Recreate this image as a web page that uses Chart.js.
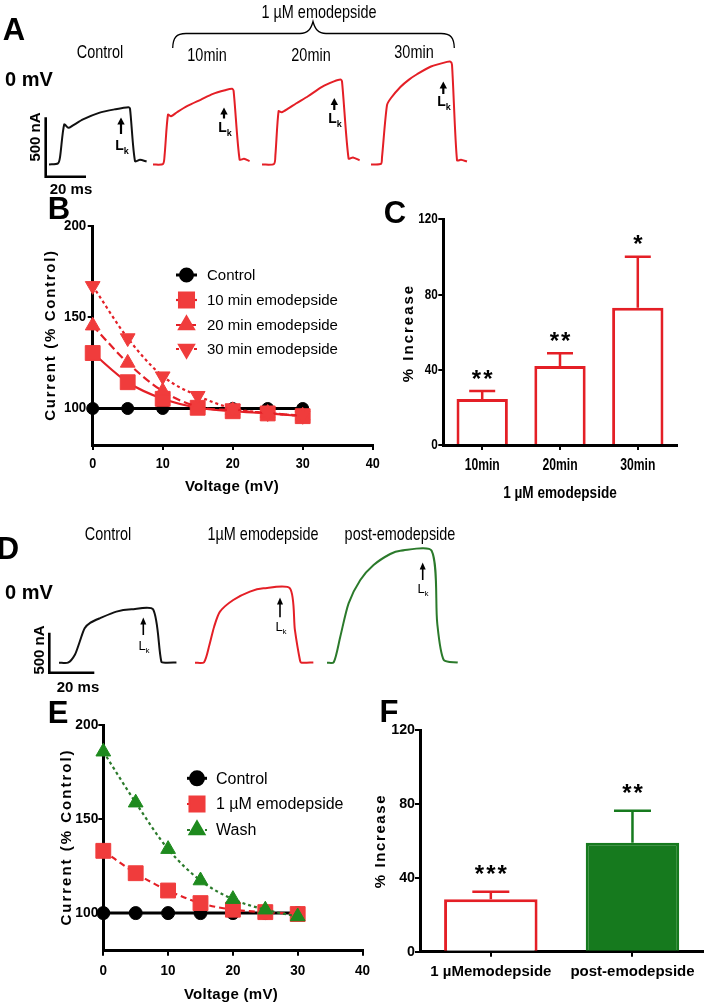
<!DOCTYPE html>
<html>
<head>
<meta charset="utf-8">
<script src="https://cdn.jsdelivr.net/npm/chart.js@4.4.0/dist/chart.umd.min.js"></script>
<style>
html, body { margin: 0; padding: 0; background: #fff; }
body { position: relative; width: 709px; height: 1007px; overflow: hidden; font-family: "Liberation Sans", Arial, sans-serif; color: #000; }
canvas { position: absolute; }
.t { position: absolute; transform: translate(-50%, -50%); white-space: nowrap; line-height: 1; }
.letter { font-weight: bold; font-size: 31px; }
.mv { font-weight: bold; font-size: 20px; }
.cap { font-size: 19px; transform: translate(-50%, -50%) scaleX(0.76); }
.scale { font-weight: bold; font-size: 15px; }
.ytitle { font-weight: bold; font-size: 15px; transform: translate(-50%, -50%) rotate(-90deg); }
.xtitle { font-weight: bold; font-size: 15px; letter-spacing: 0.3px; }
.lk { font-weight: bold; font-size: 14px; }
.lk sub { font-size: 9px; }
.lkd { font-size: 13px; }
.lkd sub { font-size: 8px; }
svg { position: absolute; left: 0; top: 0; }
</style>
</head>
<body>

<!-- panel A -->
<canvas id="trA0" width="100" height="120" style="left:49px;top:55px"></canvas>
<canvas id="trA1" width="100" height="120" style="left:152.7px;top:55px"></canvas>
<canvas id="trA2" width="100" height="120" style="left:261.7px;top:55px"></canvas>
<canvas id="trA3" width="100" height="120" style="left:370.7px;top:55px"></canvas>

<!-- panel D -->
<canvas id="trD0" width="135" height="135" style="left:59.3px;top:540px"></canvas>
<canvas id="trD1" width="135" height="135" style="left:195px;top:540px"></canvas>
<canvas id="trD2" width="135" height="135" style="left:326.7px;top:540px"></canvas>

<!-- panels B, C, E, F -->
<canvas id="chartB" width="390" height="300" style="left:0;top:200px"></canvas>
<canvas id="chartC" width="349" height="300" style="left:360px;top:200px"></canvas>
<canvas id="chartE" width="390" height="307" style="left:0;top:700px"></canvas>
<canvas id="chartF" width="349" height="307" style="left:360px;top:700px"></canvas>

<svg width="709" height="1007">
  <!-- brace over emodepside traces -->
  <path d="M172.7 48 C173 38 176 33.5 186 33.5 L300 33.5 C308 33.5 311 29 313 21.5 C315 29 318 33.5 326 33.5 L441 33.5 C451 33.5 454 38 454.3 48" fill="none" stroke="#000" stroke-width="1.3"/>
  <!-- scale bars -->
  <path d="M45.7 117.3 V176.7 H86" fill="none" stroke="#000" stroke-width="2.6"/>
  <path d="M49.3 632.7 V672.7 H94.3" fill="none" stroke="#000" stroke-width="2.6"/>
  <!-- arrows A -->
  <g stroke="#000" stroke-width="2.2" fill="#000">
    <line x1="121" y1="134" x2="121" y2="123"/><polygon points="121,117.5 117.3,124.5 124.7,124.5" stroke="none"/>
    <line x1="224" y1="118.5" x2="224" y2="113"/><polygon points="224,107.5 220.3,114.5 227.7,114.5" stroke="none"/>
    <line x1="334.3" y1="110" x2="334.3" y2="104"/><polygon points="334.3,98 330.6,105 338,105" stroke="none"/>
    <line x1="443.3" y1="94" x2="443.3" y2="87"/><polygon points="443.3,81.5 439.6,88.5 447,88.5" stroke="none"/>
  </g>
  <!-- arrows D -->
  <g stroke="#000" stroke-width="1.6" fill="#000">
    <line x1="143.3" y1="635" x2="143.3" y2="623"/><polygon points="143.3,617.5 140.3,624.5 146.3,624.5" stroke="none"/>
    <line x1="280" y1="617.3" x2="280" y2="603"/><polygon points="280,597.5 277,604.5 283,604.5" stroke="none"/>
    <line x1="422.7" y1="580" x2="422.7" y2="568"/><polygon points="422.7,562.5 419.7,569.5 425.7,569.5" stroke="none"/>
  </g>
</svg>

<div class="t letter" style="left:14px;top:29px">A</div>
<div class="t mv" style="left:29px;top:79px">0 mV</div>
<div class="t cap" style="left:319px;top:11px">1 µM emodepside</div>
<div class="t cap" style="left:100px;top:51px">Control</div>
<div class="t cap" style="left:207px;top:54px">10min</div>
<div class="t cap" style="left:311px;top:54px">20min</div>
<div class="t cap" style="left:414px;top:51px">30min</div>
<div class="t scale" style="left:33.5px;top:137px;transform:translate(-50%,-50%) rotate(-90deg)">500 nA</div>
<div class="t scale" style="left:71px;top:188px">20 ms</div>
<div class="t lk" style="left:122px;top:147px">L<sub>k</sub></div>
<div class="t lk" style="left:225px;top:129px">L<sub>k</sub></div>
<div class="t lk" style="left:335px;top:120px">L<sub>k</sub></div>
<div class="t lk" style="left:444px;top:103px">L<sub>k</sub></div>

<div class="t letter" style="left:59px;top:208px">B</div>
<div class="t ytitle" style="left:49px;top:335px;letter-spacing:1.7px">Current (% Control)</div>
<div class="t xtitle" style="left:232px;top:485px">Voltage (mV)</div>

<div class="t letter" style="left:395px;top:212px">C</div>
<div class="t ytitle" style="left:407px;top:333px;letter-spacing:2px">% Increase</div>
<div class="t xtitle" style="left:560px;top:492px;font-size:17px;transform:translate(-50%,-50%) scaleX(0.8);letter-spacing:0">1 µM emodepside</div>

<div class="t letter" style="left:8px;top:548px">D</div>
<div class="t mv" style="left:29px;top:592px">0 mV</div>
<div class="t cap" style="left:108px;top:533px">Control</div>
<div class="t cap" style="left:263px;top:533px">1µM emodepside</div>
<div class="t cap" style="left:400px;top:533px">post-emodepside</div>
<div class="t scale" style="left:38px;top:650px;transform:translate(-50%,-50%) rotate(-90deg)">500 nA</div>
<div class="t scale" style="left:78px;top:686px">20 ms</div>
<div class="t lkd" style="left:144px;top:647px">L<sub>k</sub></div>
<div class="t lkd" style="left:281px;top:628px">L<sub>k</sub></div>
<div class="t lkd" style="left:423px;top:590px">L<sub>k</sub></div>

<div class="t letter" style="left:58px;top:712px">E</div>
<div class="t ytitle" style="left:65px;top:837px;letter-spacing:2px">Current (% Control)</div>
<div class="t xtitle" style="left:231px;top:993px">Voltage (mV)</div>

<div class="t letter" style="left:389px;top:711px">F</div>
<div class="t ytitle" style="left:379px;top:841px;letter-spacing:1.6px">% Increase</div>

<script>
// ---- current traces (time in ms, current in nA above baseline) ----
const ctrlA_t = [0, 4.5, 5.5, 7.6, 9.7, 12, 17, 25, 33, 39.7, 40.5, 43, 45.5, 48.8];
const ctrlA_nA = [0, 10, 60, 337, 309, 330, 380, 435, 465, 483, 470, 29, 40, 25];
const min10A_t = [0, 5, 5.8, 7.5, 9, 12, 17, 24, 30, 36, 39.5, 40.3, 43.3, 45.5, 48.3];
const min10A_nA = [0, 5, 80, 421, 407, 440, 491, 547, 595, 625, 637, 620, 42, 48, 30];
const min20A_t = [0, 6, 6.7, 8.3, 9.8, 13, 17, 23, 30, 36, 39.2, 40, 43.3, 45.5, 48.8];
const min20A_nA = [0, 5, 80, 449, 440, 470, 514, 575, 654, 700, 716, 700, 50, 60, 35];
const min30A_t = [0, 5, 5.5, 8, 10, 14.7, 19, 23, 30, 38, 39.7, 40.5, 43, 45, 48];
const min30A_nA = [0, 5, 60, 500, 560, 653, 715, 760, 825, 864, 866, 840, 36, 40, 25];

const ctrlD_t = [0, 4, 7, 9.2, 11.4, 14, 18.1, 25.5, 32.2, 41.8, 45.5, 47.5, 52.2];
const ctrlD_nA = [0, 0, 96, 262, 430, 500, 555, 638, 667, 667, 12, 0, 3];
const emodD_t = [0, 4, 6.4, 8.5, 11.1, 17, 24.4, 30.4, 42.2, 44.4, 46.7, 47.4, 52.6];
const emodD_nA = [0, 5, 221, 450, 638, 784, 888, 930, 930, 409, 25, 0, 3];
const postD_t = [0, 3, 5.9, 9.6, 14.8, 20.7, 28.1, 32.6, 46.5, 49, 51.9, 58.1];
const postD_nA = [0, 5, 325, 742, 1034, 1221, 1359, 1400, 1400, 492, 33, 3];

// ---- I-V curves (panels B and E) ----
const voltages = [0, 5, 10, 15, 20, 25, 30];
const bSeries = ['Control', '10 min emodepside', '20 min emodepside', '30 min emodepside'];
const bControl = [100, 100, 100, 100, 100, 100, 100];
const b10min = [130.4, 114.4, 105.3, 100.4, 98.5, 97.3, 95.8];
const b20min = [145.4, 125, 109.5, 101, 99, 97.5, 96];
const b30min = [167.2, 138.6, 117.7, 107, 100, 97.5, 96];

const eSeries = ['Control', '1 µM emodepside', 'Wash'];
const eControl = [100, 100, 100, 100, 100, 100, 100];
const eEmod = [133.1, 121.2, 112, 105.3, 101.8, 100.5, 99.5];
const eWash = [185.8, 158.7, 134, 117.3, 107.4, 101.8, 98.2];

const ivYTicks = [100, 150, 200];
const ivXTicks = [0, 10, 20, 30, 40];

// ---- % increase bars (panels C and F) ----
const cCats = ['10min', '20min', '30min'];
const cMeans = [24.5, 42, 73];
const cErrs = [4.2, 6.8, 27.1];
const cStars = ['**', '**', '*'];

const fCats = ['1 µMemodepside', 'post-emodepside'];
const fMeans = [28.4, 59];
const fErrs = [4.1, 17.3];
const fStars = ['***', '**'];

const barYTicks = [0, 40, 80, 120];

const RED = '#e41f26';
const RED_PT = '#f03c3c';
const GREEN = '#2b7a2b';
const GREEN_BAR = '#167a1e';
const SANS = '"Liberation Sans", Arial, sans-serif';

Chart.defaults.animation = false;
Chart.defaults.responsive = false;
Chart.defaults.devicePixelRatio = 1;
Chart.defaults.events = [];
Chart.defaults.plugins.legend.display = false;
Chart.defaults.plugins.tooltip.enabled = false;
Chart.defaults.color = '#000';

// legend drawn inside the plot area like the original
const insideLegend = {
    id: 'insideLegend',
    afterDatasetsDraw(chart, args, opts) {
        if (!opts.rows) return;
        const ctx = chart.ctx;
        chart.data.datasets.forEach((ds, k) => {
            const y = opts.rows[k];
            ctx.save();
            ctx.strokeStyle = ds.borderColor;
            ctx.lineWidth = ds.borderWidth;
            ctx.setLineDash(ds.borderDash || []);
            ctx.beginPath();
            ctx.moveTo(opts.x0, y);
            ctx.lineTo(opts.x1, y);
            ctx.stroke();
            ctx.setLineDash([]);
            ctx.fillStyle = ds.pointBackgroundColor;
            ctx.strokeStyle = ds.pointBorderColor;
            Chart.helpers.drawPoint(ctx, {
                pointStyle: ds.pointStyle,
                rotation: ds.pointRotation || 0,
                radius: ds.pointRadius,
                borderWidth: 1
            }, (opts.x0 + opts.x1) / 2, y);
            ctx.fillStyle = '#000';
            ctx.font = opts.font;
            ctx.textBaseline = 'middle';
            ctx.textAlign = 'left';
            ctx.fillText(ds.label, opts.tx, y + 1);
            ctx.restore();
        });
    }
};

// upper error bars with significance stars
const errorBars = {
    id: 'errorBars',
    afterDatasetsDraw(chart, args, opts) {
        if (!opts.errs) return;
        const ctx = chart.ctx;
        const ys = chart.scales.y;
        const vals = chart.data.datasets[0].data;
        chart.getDatasetMeta(0).data.forEach((bar, k) => {
            const yTop = ys.getPixelForValue(vals[k] + opts.errs[k]);
            ctx.save();
            ctx.strokeStyle = opts.colors[k];
            ctx.lineWidth = opts.width;
            ctx.beginPath();
            ctx.moveTo(bar.x, bar.y);
            ctx.lineTo(bar.x, yTop);
            ctx.moveTo(bar.x - opts.cap / 2, yTop);
            ctx.lineTo(bar.x + opts.cap / 2, yTop);
            ctx.stroke();
            ctx.fillStyle = '#000';
            ctx.font = opts.font;
            ctx.letterSpacing = '2px';
            ctx.textAlign = 'center';
            ctx.textBaseline = 'alphabetic';
            ctx.fillText(opts.stars[k], bar.x + 1, yTop + opts.starDy);
            ctx.restore();
        });
    }
};

// tick labels drawn by hand so they can be squeezed like the original's condensed type
const squeezedTicks = {
    id: 'squeezedTicks',
    afterDraw(chart, args, opts) {
        const ctx = chart.ctx;
        ['x', 'y'].forEach(id => {
            const o = opts[id];
            if (!o) return;
            const s = chart.scales[id];
            s.ticks.forEach((tk, i) => {
                const p = s.getPixelForTick(i);
                ctx.save();
                ctx.fillStyle = '#000';
                ctx.font = o.font;
                if (id === 'x') {
                    ctx.translate(p, s.top + o.pad);
                    ctx.textAlign = 'center';
                    ctx.textBaseline = 'alphabetic';
                } else {
                    ctx.translate(s.right - o.pad, p);
                    ctx.textAlign = 'right';
                    ctx.textBaseline = 'middle';
                }
                ctx.scale(o.sx, 1);
                ctx.fillText(s.getLabelForValue(tk.value), 0, 0);
                ctx.restore();
            });
        });
    }
};

Chart.register(insideLegend, errorBars, squeezedTicks);

function traceChart(id, t, nA, color, yMin, yMax, xMax) {
    return new Chart(document.getElementById(id), {
        type: 'line',
        data: {
            datasets: [{
                data: t.map((v, k) => ({ x: v, y: nA[k] })),
                borderColor: color,
                borderWidth: 2,
                pointRadius: 0,
                tension: 0.25,
                clip: false
            }]
        },
        options: {
            layout: { padding: 0 },
            scales: {
                x: { type: 'linear', display: false, min: 0, max: xMax },
                y: { display: false, min: yMin, max: yMax }
            }
        }
    });
}

traceChart('trA0', ctrlA_t, ctrlA_nA, '#111', -88, 922, 50);
traceChart('trA1', min10A_t, min10A_nA, RED, -88, 922, 50);
traceChart('trA2', min20A_t, min20A_nA, RED, -88, 922, 50);
traceChart('trA3', min30A_t, min30A_nA, RED, -88, 922, 50);

traceChart('trD0', ctrlD_t, ctrlD_nA, '#111', -154, 1534, 60);
traceChart('trD1', emodD_t, emodD_nA, RED, -154, 1534, 60);
traceChart('trD2', postD_t, postD_nA, GREEN, -154, 1534, 60);

function axisCommon() {
    return {
        grid: { display: true, drawOnChartArea: false, drawTicks: true, tickLength: 5, color: '#000', lineWidth: 2 },
        border: { display: true, color: '#000', width: 3 },
        ticks: { display: false }
    };
}

function ivAxes(yWidth) {
    const x = axisCommon();
    x.type = 'linear';
    x.min = 0;
    x.max = 40;
    x.afterBuildTicks = s => { s.ticks = ivXTicks.map(v => ({ value: v })); };
    x.afterFit = s => { s.height = 40; };
    const y = axisCommon();
    y.min = 80;
    y.max = 200;
    y.afterBuildTicks = s => { s.ticks = ivYTicks.map(v => ({ value: v })); };
    y.afterFit = s => { s.width = yWidth; };
    return { x, y };
}

function ivSet(label, vals, color, ptColor, dash, style, radius, rot, order) {
    return {
        label: label,
        data: voltages.map((v, k) => ({ x: v, y: vals[k] })),
        borderColor: color,
        borderWidth: color === '#000' ? 3 : 2.2,
        borderDash: dash,
        pointStyle: style,
        pointRotation: rot,
        pointRadius: radius,
        pointBackgroundColor: ptColor,
        pointBorderColor: ptColor,
        pointBorderWidth: 1,
        tension: 0.4,
        cubicInterpolationMode: 'monotone',
        clip: false,
        order: order
    };
}

new Chart(document.getElementById('chartB'), {
    type: 'line',
    data: {
        datasets: [
            ivSet(bSeries[0], bControl, '#000', '#000', [], 'circle', 6, 0, 4),
            ivSet(bSeries[1], b10min, RED, RED_PT, [], 'rect', 10.5, 0, 3),
            ivSet(bSeries[2], b20min, RED, RED_PT, [8, 4], 'triangle', 8.5, 0, 2),
            ivSet(bSeries[3], b30min, RED, RED_PT, [3, 3], 'triangle', 8.5, 180, 1)
        ]
    },
    options: {
        layout: { padding: { top: 26, right: 17.3, bottom: 15, left: 0 } },
        scales: ivAxes(92.7),
        plugins: {
            insideLegend: { rows: [75, 100, 125, 149], x0: 176, x1: 197, tx: 207, font: '15px ' + SANS },
            squeezedTicks: {
                x: { font: 'bold 14px ' + SANS, sx: 0.9, pad: 23 },
                y: { font: 'bold 14px ' + SANS, sx: 0.95, pad: 6.5 }
            }
        }
    }
});

new Chart(document.getElementById('chartE'), {
    type: 'line',
    data: {
        datasets: [
            ivSet(eSeries[0], eControl, '#000', '#000', [], 'circle', 6.5, 0, 3),
            ivSet(eSeries[1], eEmod, RED, RED_PT, [6, 4], 'rect', 10.5, 0, 2),
            ivSet(eSeries[2], eWash, GREEN, '#1e8a1e', [3, 3], 'triangle', 8.5, 0, 1)
        ]
    },
    options: {
        layout: { padding: { top: 25, right: 27.5, bottom: 16.3, left: 0 } },
        scales: ivAxes(103.3),
        plugins: {
            insideLegend: { rows: [78.3, 104, 130], x0: 187, x1: 207, tx: 216, font: '16px ' + SANS },
            squeezedTicks: {
                x: { font: 'bold 15px ' + SANS, sx: 0.9, pad: 24.5 },
                y: { font: 'bold 15px ' + SANS, sx: 0.92, pad: 5 }
            }
        }
    }
});

function barAxes(yWidth) {
    const x = axisCommon();
    x.grid.offset = false;
    x.afterFit = s => { s.height = 40; };
    const y = axisCommon();
    y.min = 0;
    y.max = 120;
    y.afterBuildTicks = s => { s.ticks = barYTicks.map(v => ({ value: v })); };
    y.afterFit = s => { s.width = yWidth; };
    return { x, y };
}

new Chart(document.getElementById('chartC'), {
    type: 'bar',
    data: {
        labels: cCats,
        datasets: [{
            data: cMeans,
            backgroundColor: '#fff',
            borderColor: RED,
            borderWidth: 3,
            categoryPercentage: 1,
            barPercentage: 0.66
        }]
    },
    options: {
        layout: { padding: { top: 19.3, right: 32.3, bottom: 15, left: 0 } },
        scales: barAxes(83.3),
        plugins: {
            errorBars: { errs: cErrs, stars: cStars, colors: [RED, RED, RED], width: 2.5, cap: 26, font: 'bold 24px ' + SANS, starDy: -4.5 },
            squeezedTicks: {
                x: { font: 'bold 16px ' + SANS, sx: 0.76, pad: 24.5 },
                y: { font: 'bold 15px ' + SANS, sx: 0.78, pad: 5.5 }
            }
        }
    }
});

new Chart(document.getElementById('chartF'), {
    type: 'bar',
    data: {
        labels: fCats,
        datasets: [{
            data: fMeans,
            backgroundColor: ['#fff', GREEN_BAR],
            borderColor: [RED, GREEN_BAR],
            borderWidth: 3,
            categoryPercentage: 1,
            barPercentage: 0.66
        }]
    },
    options: {
        layout: { padding: { top: 30, right: 5.7, bottom: 15.3, left: 0 } },
        scales: barAxes(60),
        plugins: {
            errorBars: { errs: fErrs, stars: fStars, colors: [RED, GREEN_BAR], width: 2.5, cap: 37, font: 'bold 24px ' + SANS, starDy: -10 },
            squeezedTicks: {
                x: { font: 'bold 15px ' + SANS, sx: 1, pad: 24 },
                y: { font: 'bold 15px ' + SANS, sx: 0.95, pad: 5 }
            }
        }
    }
});
</script>
</body>
</html>
